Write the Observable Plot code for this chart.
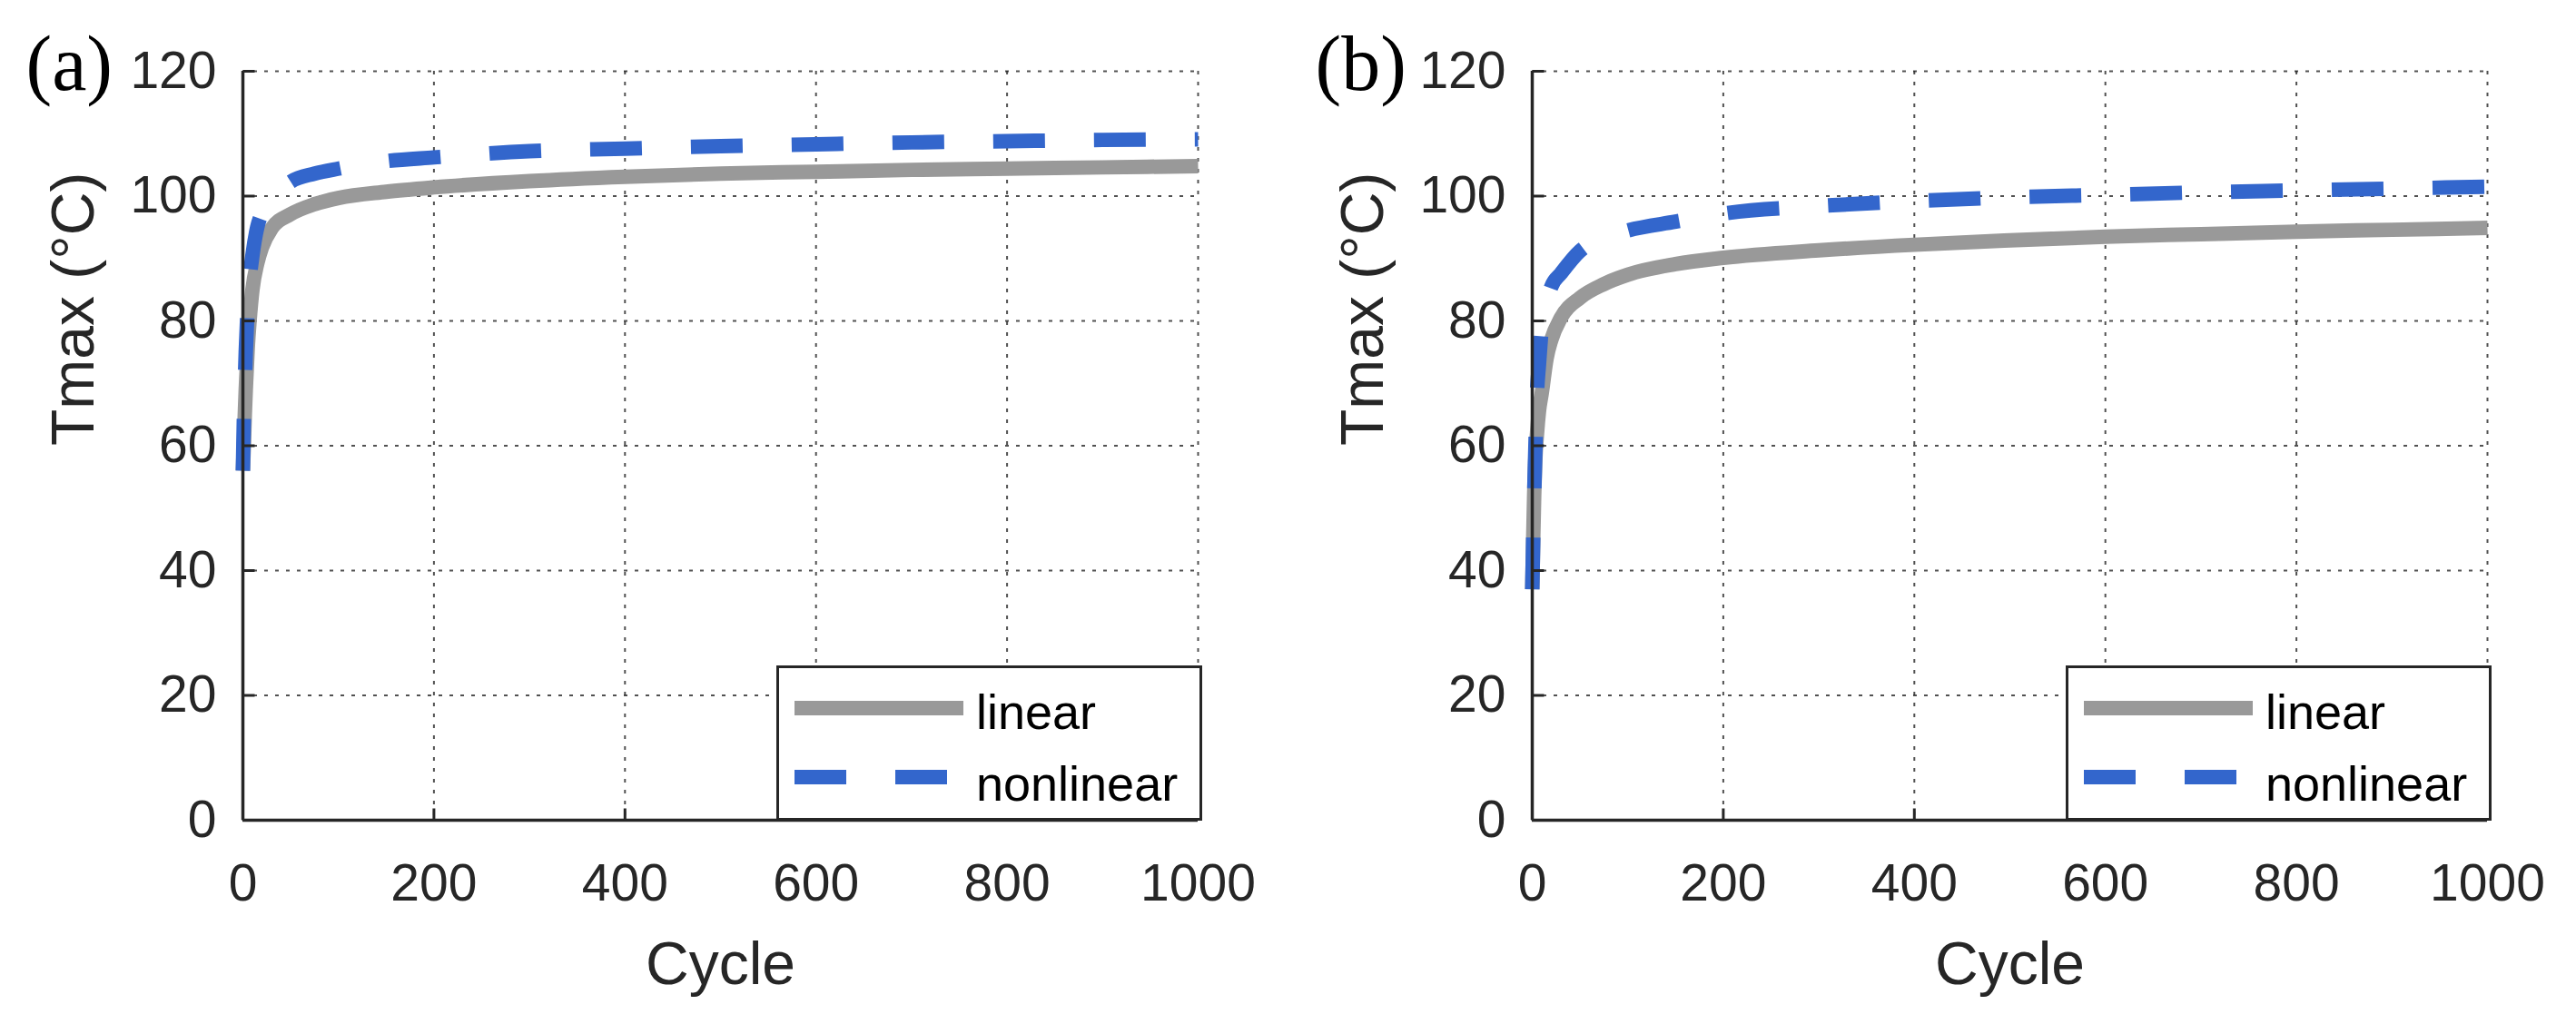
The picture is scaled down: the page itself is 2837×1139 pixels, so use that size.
<!DOCTYPE html>
<html>
<head>
<meta charset="utf-8">
<script src="https://cdn.jsdelivr.net/npm/d3@7"></script>
<script src="https://cdn.jsdelivr.net/npm/@observablehq/plot@0.6"></script>
<style>
  html, body { margin: 0; padding: 0; background: #fff; }
  #root { position: relative; width: 2837px; height: 1139px; background: #fff; overflow: hidden;
          font-family: "Liberation Sans", Arial, sans-serif; color: #262626; }
  .panel { position: absolute; top: 0; height: 1139px; }
  .legend { position: absolute; box-sizing: border-box; border: 3.5px solid #262626; background: #fff; }
  .legend svg { position: absolute; left: 0; top: 0; overflow: visible; }
</style>
</head>
<body>
<div id="root"></div>
<script>
// ---- data ----
const cycles     = [0, 1, 2, 3, 5, 7, 10, 15, 20, 30, 50, 75, 100, 150, 200, 300, 400, 500, 600, 700, 800, 900, 1000];
const linearA    = [56, 60, 65, 69, 75.5, 80, 85, 89.2, 91.8, 94.8, 97.1, 98.7, 99.7, 100.7, 101.4, 102.4, 103.1, 103.6, 103.9, 104.2, 104.4, 104.6, 104.8];
const nonlinearA = [56, 64, 70, 75, 82, 86.5, 90.5, 95, 97.3, 99.6, 102.3, 103.6, 104.4, 105.6, 106.2, 107.2, 107.6, 108, 108.3, 108.6, 108.8, 109, 109.1];
const linearB    = [37, 45, 52, 57, 62, 65.5, 68.5, 74, 77, 80.5, 83.7, 85.9, 87.4, 89.1, 90.1, 91.3, 92.2, 92.9, 93.5, 93.9, 94.3, 94.6, 94.9];
const nonlinearB = [37, 45, 52, 58, 68.5, 73, 79, 83, 85.5, 87.6, 91.2, 93.3, 94.5, 95.9, 97.2, 98.4, 99.2, 99.8, 100.2, 100.6, 100.9, 101.2, 101.5];
const xTicks = [0, 200, 400, 600, 800, 1000];
const yTicks = [0, 20, 40, 60, 80, 100, 120];
const panelLabels = ["(a)", "(b)"];
const seriesNames = ["linear", "nonlinear"];
const xLabel = "Cycle";
const yLabel = "Tmax (°C)";

// ---- style ----
const INK = "#262626";
const GRAY = "#999999";
const BLUE = "#3366CC";
const FONT = '"Liberation Sans", Arial, sans-serif';
const DASH = "57,54";
const W_LINE = 16;

function panel(label, lin, non, width) {
  const mL = 267, mT = 78, mB = 236, plotW = 1052;
  const mR = width - mL - plotW;
  const rows = cycles.map((c, i) => ({cycle: c, lin: lin[i], non: non[i]}));
  const tickPx = 13;
  const yLen = tickPx * 120 / (1139 - mT - mB);
  const xLen = tickPx * 1000 / plotW;
  const gridStyle = {stroke: INK, strokeOpacity: 0.8, strokeWidth: 2, strokeDasharray: "4,8"};
  return Plot.plot({
    width, height: 1139,
    marginLeft: mL, marginRight: mR, marginTop: mT, marginBottom: mB,
    x: {domain: [0, 1000]},
    y: {domain: [0, 120]},
    style: {fontFamily: FONT, color: INK, background: "transparent", overflow: "visible"},
    marks: [
      Plot.gridX(xTicks, gridStyle),
      Plot.gridY(yTicks, gridStyle),
      Plot.line(rows, {x: "cycle", y: "lin", stroke: GRAY, strokeWidth: W_LINE, curve: "monotone-x", strokeLinecap: "butt", strokeLinejoin: "round"}),
      Plot.line(rows, {x: "cycle", y: "non", stroke: BLUE, strokeWidth: W_LINE, curve: "monotone-x", strokeDasharray: DASH, strokeLinecap: "butt", strokeLinejoin: "round"}),
      Plot.ruleX([0], {stroke: INK, strokeWidth: 3.5}),
      Plot.ruleY([0], {stroke: INK, strokeWidth: 3.5}),
      Plot.link(xTicks, {x1: d => d, x2: d => d, y1: 0, y2: yLen, stroke: INK, strokeWidth: 3}),
      Plot.link(yTicks, {y1: d => d, y2: d => d, x1: 0, x2: xLen, stroke: INK, strokeWidth: 3}),
      Plot.axisX(xTicks, {tickSize: 0, tickPadding: 48, fontSize: 57, label: null, fill: INK, tickFormat: d => String(d)}),
      Plot.axisY(yTicks, {tickSize: 0, tickPadding: 29, fontSize: 57, label: null, fill: INK, tickFormat: d => String(d)}),
      Plot.text([xLabel], {frameAnchor: "bottom", dy: 180, lineAnchor: "bottom", fontSize: 66, fill: INK}),
      Plot.text([yLabel], {frameAnchor: "left", dx: -165, rotate: -90, lineAnchor: "bottom", fontSize: 66, fill: INK}),
      Plot.text([label], {frameAnchor: "top-left", dx: -239, dy: 20, textAnchor: "start", lineAnchor: "bottom",
                          fontSize: 86, fontFamily: '"Liberation Serif", "Times New Roman", serif', fill: "#000"})
    ]
  });
}

function legend() {
  const box = document.createElement("div");
  box.className = "legend";
  Object.assign(box.style, {left: "855px", top: "733px", width: "469px", height: "171px"});
  const ns = "http://www.w3.org/2000/svg";
  const svg = document.createElementNS(ns, "svg");
  svg.setAttribute("width", 469); svg.setAttribute("height", 171);
  const entries = [
    {name: seriesNames[0], stroke: GRAY, dash: null, y: 44, ty: 67},
    {name: seriesNames[1], stroke: BLUE, dash: DASH, y: 120, ty: 146}
  ];
  for (const e of entries) {
    const l = document.createElementNS(ns, "line");
    l.setAttribute("x1", 17); l.setAttribute("x2", 203);
    l.setAttribute("y1", e.y); l.setAttribute("y2", e.y);
    l.setAttribute("stroke", e.stroke); l.setAttribute("stroke-width", W_LINE);
    if (e.dash) l.setAttribute("stroke-dasharray", e.dash);
    svg.appendChild(l);
    const t = document.createElementNS(ns, "text");
    t.setAttribute("x", 217); t.setAttribute("y", e.ty);
    t.setAttribute("font-family", FONT); t.setAttribute("font-size", 54); t.setAttribute("fill", "#000");
    t.textContent = e.name;
    svg.appendChild(t);
  }
  box.appendChild(svg);
  return box;
}

const root = document.getElementById("root");
const specs = [
  {label: panelLabels[0], lin: linearA, non: nonlinearA, left: 0, width: 1420},
  {label: panelLabels[1], lin: linearB, non: nonlinearB, left: 1420, width: 1417}
];
for (const s of specs) {
  const div = document.createElement("div");
  div.className = "panel";
  div.style.left = s.left + "px";
  div.style.width = s.width + "px";
  div.appendChild(panel(s.label, s.lin, s.non, s.width));
  div.appendChild(legend());
  root.appendChild(div);
}
</script>
</body>
</html>
